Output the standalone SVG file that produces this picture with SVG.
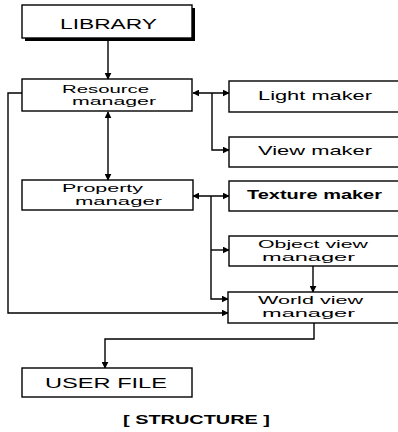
<svg xmlns="http://www.w3.org/2000/svg" width="398" height="432" viewBox="0 0 398 432">
  <style>
    .box { fill: #fff; stroke: #000; stroke-width: 1.4; }
    .shadow { fill: #000; }
    .wire { fill: none; stroke: #000; stroke-width: 1.4; }
    .lbl { font-family: "Liberation Sans", Arial, sans-serif; font-size: 13px; fill: #000; }
    .two { font-size: 11px; }
    .big { font-size: 15px; }
    .bold { font-weight: bold; }
  </style>
  <defs>
    <marker id="ah" viewBox="0 0 10 10" refX="9" refY="5" markerWidth="7" markerHeight="7" markerUnits="userSpaceOnUse" orient="auto-start-reverse">
      <path d="M0,0 L10,5 L0,10 z" fill="#000"/>
    </marker>
  </defs>
  <rect width="398" height="432" fill="#fff"/>

  <g id="connectors">
    <!-- library to resource manager -->
    <path class="wire" d="M108,40 V79" marker-end="url(#ah)"/>
    <!-- resource manager to property manager -->
    <path class="wire" d="M108,112 V180" marker-start="url(#ah)" marker-end="url(#ah)"/>
    <!-- resource manager to light maker / view maker -->
    <path class="wire" d="M193,93 H229" marker-start="url(#ah)" marker-end="url(#ah)"/>
    <path class="wire" d="M212,93 V150 H229" marker-end="url(#ah)"/>
    <!-- property manager to texture / object view / world view -->
    <path class="wire" d="M193,196 H229" marker-start="url(#ah)" marker-end="url(#ah)"/>
    <path class="wire" d="M211,196 V299 H228" marker-end="url(#ah)"/>
    <path class="wire" d="M211,250 H229" marker-end="url(#ah)"/>
    <!-- resource manager loop to world view manager -->
    <path class="wire" d="M22,93 H8 V313 H228" marker-end="url(#ah)"/>
    <!-- object view manager to world view manager -->
    <path class="wire" d="M313,266 V292" marker-end="url(#ah)"/>
    <!-- world view manager to user file -->
    <path class="wire" d="M314,323 V339 H105 V368" marker-end="url(#ah)"/>
  </g>

  <g id="library">
    <rect class="shadow" x="25" y="8" width="170" height="33"/>
    <rect class="box" x="22" y="5" width="170" height="33"/>
    <text class="lbl big" x="60" y="29" textLength="97" lengthAdjust="spacingAndGlyphs">LIBRARY</text>
  </g>

  <g id="resource-manager">
    <rect class="box" x="22" y="79" width="170" height="32"/>
    <text class="lbl two" x="62" y="92.5" textLength="87" lengthAdjust="spacingAndGlyphs">Resource</text>
    <text class="lbl two" x="72" y="105" textLength="84" lengthAdjust="spacingAndGlyphs">manager</text>
  </g>

  <g id="property-manager">
    <rect class="box" x="22" y="180" width="171" height="30"/>
    <text class="lbl two" x="62" y="192" textLength="81" lengthAdjust="spacingAndGlyphs">Property</text>
    <text class="lbl two" x="75" y="205" textLength="87" lengthAdjust="spacingAndGlyphs">manager</text>
  </g>

  <g id="light-maker">
    <rect class="box" x="229" y="81" width="175" height="31"/>
    <text class="lbl" x="258" y="100" textLength="114" lengthAdjust="spacingAndGlyphs">Light maker</text>
  </g>

  <g id="view-maker">
    <rect class="box" x="229" y="137" width="175" height="30"/>
    <text class="lbl" x="258" y="155" textLength="114" lengthAdjust="spacingAndGlyphs">View maker</text>
  </g>

  <g id="texture-maker">
    <rect class="box" x="229" y="181" width="175" height="30"/>
    <text class="lbl bold" x="247" y="199" textLength="135" lengthAdjust="spacingAndGlyphs">Texture maker</text>
  </g>

  <g id="object-view-manager">
    <rect class="box" x="229" y="236" width="175" height="30"/>
    <text class="lbl two" x="258" y="247.5" textLength="110" lengthAdjust="spacingAndGlyphs">Object view</text>
    <text class="lbl two" x="262" y="260.5" textLength="93" lengthAdjust="spacingAndGlyphs">manager</text>
  </g>

  <g id="world-view-manager">
    <rect class="box" x="228" y="292" width="176" height="31"/>
    <text class="lbl two" x="258" y="303.5" textLength="105" lengthAdjust="spacingAndGlyphs">World view</text>
    <text class="lbl two" x="262" y="316.5" textLength="93" lengthAdjust="spacingAndGlyphs">manager</text>
  </g>

  <g id="user-file">
    <rect class="box" x="22" y="368" width="170" height="29"/>
    <text class="lbl big" x="45" y="388" textLength="122" lengthAdjust="spacingAndGlyphs">USER FILE</text>
  </g>

  <text class="lbl bold" x="123" y="424" font-size="12" textLength="147" lengthAdjust="spacingAndGlyphs">[ STRUCTURE ]</text>
</svg>
